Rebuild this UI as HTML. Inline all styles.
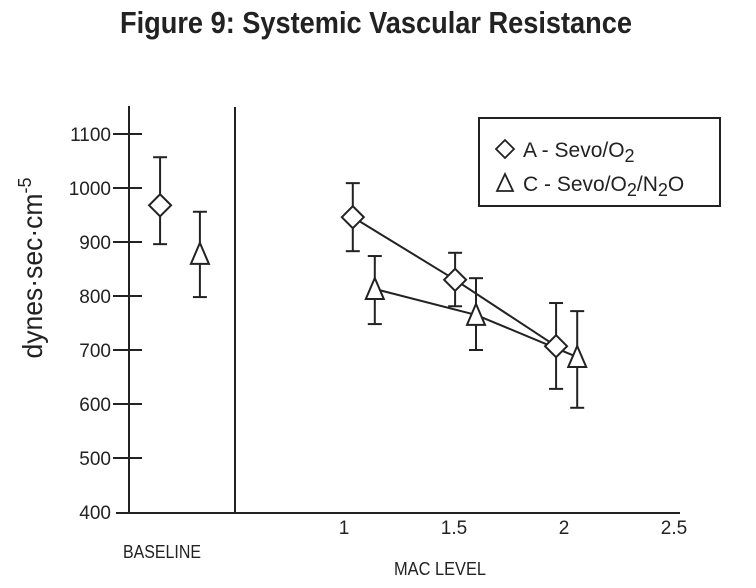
<!DOCTYPE html>
<html><head><meta charset="utf-8"><style>
html,body{margin:0;padding:0;background:#fff;}
svg{display:block;font-family:"Liberation Sans Narrow","Liberation Sans",sans-serif;}
</style></head><body>
<svg id="chart" width="756" height="588" viewBox="0 0 756 588">
<text x="376" y="33" text-anchor="middle" font-size="31" font-weight="bold" fill="#222" textLength="512" lengthAdjust="spacingAndGlyphs">Figure 9: Systemic Vascular Resistance</text>
<text transform="translate(42,268) rotate(-90)" text-anchor="middle" font-size="28" fill="#222"><tspan textLength="165" lengthAdjust="spacingAndGlyphs">dynes·sec·cm</tspan><tspan dy="-11" font-size="18">-5</tspan></text>
<g id="axes" stroke="#222" stroke-width="2" fill="none"></g>
<g id="ticks"></g>
<g id="series"></g>
<text x="162" y="558" text-anchor="middle" font-size="18" fill="#222" textLength="78" lengthAdjust="spacingAndGlyphs">BASELINE</text>
<text x="440" y="575" text-anchor="middle" font-size="18" fill="#222" textLength="92" lengthAdjust="spacingAndGlyphs">MAC LEVEL</text>
<g>
<rect x="479" y="118" width="241" height="88" fill="#fff" stroke="#222" stroke-width="2"/>
<path d="M496,149 L505,140 L514,149 L505,158 Z" fill="#fff" stroke="#222" stroke-width="1.8"/>
<text x="523" y="157" font-size="21" fill="#222">A - Sevo/O<tspan dy="5" font-size="18">2</tspan></text>
<path d="M497,191 L505,174 L513,191 Z" fill="#fff" stroke="#222" stroke-width="1.8"/>
<text x="523" y="191" font-size="21" fill="#222">C - Sevo/O<tspan dy="5" font-size="18">2</tspan><tspan dy="-5">/N</tspan><tspan dy="5" font-size="18">2</tspan><tspan dy="-5">O</tspan></text>
</g>
</svg>
<script>
const yTicks=[400,500,600,700,800,900,1000,1100];
const xTicks=[1,1.5,2,2.5];
const baseX=[0.164,0.345];
const baseMean=[968,878];
const baseHi=[1057,956];
const baseLo=[896,798];
const aX=[1.04,1.505,1.964];
const aMean=[946,830,707];
const aHi=[1009,880,787];
const aLo=[883,781,628];
const cX=[1.14,1.6,2.06];
const cMean=[813,765,687];
const cHi=[874,833,772];
const cLo=[748,700,593];

const NS="http://www.w3.org/2000/svg";
const X=v=>124+220*v;
const Y=v=>512-(v-400)*0.54;
function mk(tag,attrs,parent){const e=document.createElementNS(NS,tag);for(const k in attrs)e.setAttribute(k,attrs[k]);parent.appendChild(e);return e;}
const axes=document.getElementById('axes'),ticks=document.getElementById('ticks'),ser=document.getElementById('series');
let e=mk('line',{x1:129,y1:106,x2:129,y2:513},axes);


e=mk('line',{x1:116,y1:513,x2:680,y2:513},axes);


e=mk('line',{x1:235,y1:107,x2:235,y2:513},axes);


yTicks.forEach(t=>{
 if(t>400){const l=mk('line',{x1:113,y1:Y(t),x2:142,y2:Y(t),stroke:'#222','stroke-width':2},ticks);
 
 }
 const tx=mk('text',{x:111,y:Y(t)+7,'text-anchor':'end','font-size':19,fill:'#222'},ticks);
 tx.textContent=t;
 
 
});
xTicks.forEach(t=>{
 const tx=mk('text',{x:X(t),y:534,'text-anchor':'middle','font-size':19,fill:'#222'},ticks);
 tx.textContent=t;
 
 
});
function errbar(x,hi,lo){
 const g=mk('g',{stroke:'#222','stroke-width':2},ser);
 
 
 mk('line',{x1:X(x),y1:Y(hi),x2:X(x),y2:Y(lo)},g);
 mk('line',{x1:X(x)-7,y1:Y(hi),x2:X(x)+7,y2:Y(hi)},g);
 mk('line',{x1:X(x)-7,y1:Y(lo),x2:X(x)+7,y2:Y(lo)},g);
}
function diamond(x,v){const cx=X(x),cy=Y(v);
 const p=mk('path',{d:`M${cx-11},${cy} L${cx},${cy-11} L${cx+11},${cy} L${cx},${cy+11} Z`,fill:'#fff',stroke:'#222','stroke-width':2},ser);
 
 }
function tri(x,v){const cx=X(x),cy=Y(v);
 const p=mk('path',{d:`M${cx-9},${cy+10} L${cx},${cy-11} L${cx+9},${cy+10} Z`,fill:'#fff',stroke:'#222','stroke-width':2},ser);
 
 }
let la=mk('polyline',{points:aX.map((x,i)=>X(x)+','+Y(aMean[i])).join(' '),fill:'none',stroke:'#222','stroke-width':2},ser);


let lc=mk('polyline',{points:cX.map((x,i)=>X(x)+','+Y(cMean[i])).join(' '),fill:'none',stroke:'#222','stroke-width':2},ser);


errbar(baseX[0],baseHi[0],baseLo[0]);diamond(baseX[0],baseMean[0]);
errbar(baseX[1],baseHi[1],baseLo[1]);tri(baseX[1],baseMean[1]);
aX.forEach((x,i)=>errbar(x,aHi[i],aLo[i]));
cX.forEach((x,i)=>errbar(x,cHi[i],cLo[i]));
aX.forEach((x,i)=>diamond(x,aMean[i]));
cX.forEach((x,i)=>tri(x,cMean[i]));
</script>
</body></html>
